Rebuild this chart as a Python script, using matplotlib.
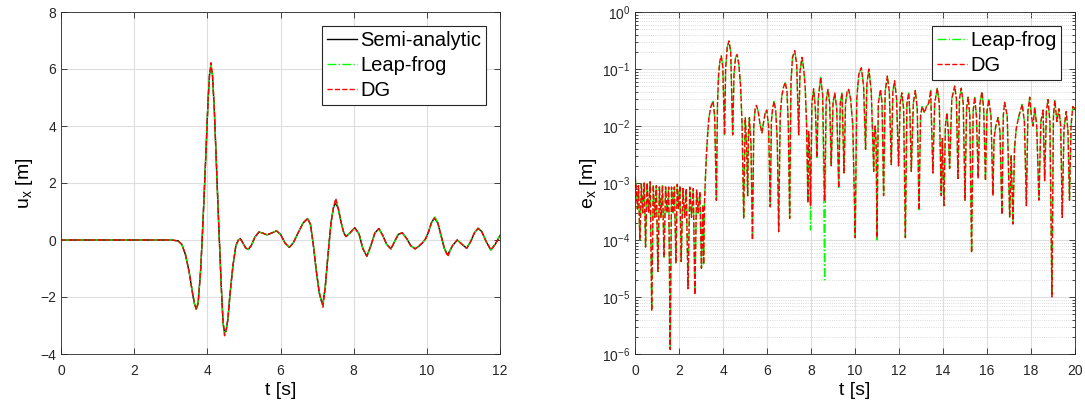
import numpy as np
import matplotlib
matplotlib.use("Agg")
import matplotlib.pyplot as plt
from matplotlib.ticker import LogLocator, NullFormatter

plt.rcParams['font.family'] = ['Liberation Sans', 'DejaVu Sans']
plt.rcParams['mathtext.fontset'] = 'custom'
plt.rcParams['mathtext.rm'] = 'Liberation Sans'
plt.rcParams['mathtext.it'] = 'Liberation Sans:italic'
plt.rcParams['mathtext.default'] = 'regular'

# ---- left panel: displacement u_x ----
t_u = [0.0, 3.0, 3.2, 3.3, 3.4, 3.5, 3.6, 3.65, 3.7, 3.75, 3.82, 3.88, 3.95, 4.02, 4.06,
       4.1, 4.14, 4.19, 4.25, 4.3, 4.38, 4.43, 4.47, 4.51, 4.56, 4.62, 4.7, 4.78, 4.85,
       4.9, 4.97, 5.05, 5.12, 5.2, 5.3, 5.41, 5.52, 5.63, 5.75, 5.89, 6.0, 6.12, 6.24,
       6.35, 6.5, 6.62, 6.74, 6.82, 6.9, 6.98, 7.06, 7.12, 7.16, 7.22, 7.3, 7.38, 7.45,
       7.51, 7.58, 7.66, 7.73, 7.79, 7.9, 8.03, 8.15, 8.25, 8.36, 8.47, 8.58, 8.69, 8.8,
       8.9, 9.02, 9.12, 9.22, 9.33, 9.45, 9.56, 9.68, 9.78, 9.88, 9.97, 10.05,
       10.13, 10.21, 10.3, 10.4, 10.48, 10.57, 10.7, 10.83, 10.96, 11.09, 11.2,
       11.3, 11.4, 11.5, 11.62, 11.75, 11.87, 12.0]
u_semi = [0.0, 0.0, -0.03, -0.15, -0.5, -1.1, -1.9, -2.25, -2.42, -2.2, -1.0, 0.6, 2.7, 4.9, 5.8,
          6.05, 5.8, 4.6, 2.6, 0.9, -1.6, -2.9, -3.25, -3.2, -2.8, -1.9, -0.9, -0.2, 0.0,
          0.05, -0.1, -0.28, -0.33, -0.2, 0.1, 0.28, 0.24, 0.18, 0.24, 0.32, 0.2, -0.1, -0.26,
          -0.1, 0.3, 0.6, 0.75, 0.55, -0.2, -1.1, -1.85, -2.15, -2.2, -1.7, -0.5, 0.6, 1.15,
          1.3, 1.1, 0.6, 0.25, 0.12, 0.25, 0.43, 0.2, -0.3, -0.57, -0.2, 0.25, 0.4, 0.15,
          -0.15, -0.31, -0.05, 0.2, 0.25, 0.05, -0.2, -0.31, -0.22, -0.1, 0.05, 0.3,
          0.62, 0.77, 0.6, 0.1, -0.3, -0.52, -0.2, 0.0, -0.15, -0.29, -0.05,
          0.25, 0.41, 0.3, -0.05, -0.35, -0.15, 0.16]
# numerical solutions differ from the reference only near the extrema
lf_peaks = {3.7: -2.47, 4.1: 6.15, 4.47: -3.3, 7.16: -2.3, 7.51: 1.4, 10.21: 0.84}
dg_peaks = {3.7: -2.44, 4.1: 6.22, 4.47: -3.36, 7.16: -2.36, 7.51: 1.46, 10.57: -0.58}
u_lf = [lf_peaks.get(t, u) for t, u in zip(t_u, u_semi)]
u_dg = [dg_peaks.get(t, u) for t, u in zip(t_u, u_semi)]

# ---- right panel: error e_x (t, value) ----
err_dg = [
    (0.00, 1.3e-3), (0.05, 9e-4), (0.11, 3.5e-4), (0.16, 9e-4), (0.22, 1.0e-4),
    (0.29, 9.5e-4), (0.35, 3e-4), (0.42, 1.0e-3), (0.48, 7.5e-5),
    (0.55, 1.0e-3), (0.62, 3e-4), (0.69, 1.05e-3), (0.76, 5.7e-6),
    (0.83, 9e-4), (0.90, 2.5e-4), (0.97, 9e-4), (1.04, 2.8e-5),
    (1.11, 8.5e-4), (1.18, 2.5e-4), (1.25, 9e-4), (1.32, 5e-5),
    (1.39, 8.5e-4), (1.46, 3e-4), (1.53, 8.5e-4), (1.60, 1.2e-6),
    (1.66, 8.5e-4), (1.73, 3e-4), (1.79, 8.5e-4), (1.86, 4e-5),
    (1.92, 9.5e-4), (1.98, 3.5e-4), (2.04, 9e-4), (2.10, 4.2e-5),
    (2.18, 8e-4), (2.26, 2.5e-4), (2.33, 8e-4), (2.41, 1.4e-5),
    (2.49, 8.5e-4), (2.57, 2.5e-4), (2.65, 8e-4), (2.72, 1.1e-5),
    (2.80, 7.5e-4), (2.87, 3e-4), (2.95, 7e-4), (3.02, 3.2e-5),
    (3.08, 4e-4), (3.12, 3.8e-5), (3.16, 4.5e-4),
    (3.20, 1.2e-3), (3.24, 2.8e-3), (3.30, 7e-3), (3.36, 1.4e-2), (3.45, 2.2e-2),
    (3.55, 2.7e-2), (3.62, 1.5e-2), (3.70, 5e-4),
    (3.75, 2.5e-2), (3.80, 8e-2), (3.86, 0.14), (3.92, 0.17), (3.99, 0.11), (4.07, 7e-3),
    (4.12, 0.1), (4.19, 0.24), (4.27, 0.31), (4.35, 0.2), (4.44, 7e-3),
    (4.50, 0.08), (4.57, 0.16), (4.64, 0.18), (4.72, 0.12), (4.80, 5e-2), (4.87, 1e-2),
    (4.94, 2.5e-4), (5.01, 1.4e-2), (5.07, 5e-3), (5.12, 6e-4), (5.16, 8e-3),
    (5.20, 1.4e-2), (5.27, 5e-3), (5.34, 1e-4),
    (5.40, 1e-2), (5.46, 2e-2), (5.52, 2.3e-2), (5.60, 1.8e-2), (5.68, 1.1e-2),
    (5.77, 7.5e-3), (5.85, 1.2e-2), (5.92, 1.7e-2), (5.99, 1.9e-2), (6.07, 1e-2),
    (6.15, 3.8e-4), (6.20, 1.2e-2), (6.26, 2.1e-2), (6.32, 2.7e-2), (6.40, 1.8e-2),
    (6.47, 5e-3), (6.53, 1.4e-4),
    (6.60, 1.5e-2), (6.67, 3.3e-2), (6.75, 4.8e-2), (6.83, 5.8e-2), (6.91, 4e-2),
    (6.97, 1e-2), (7.03, 2.4e-4),
    (7.09, 6e-2), (7.16, 0.16), (7.26, 0.21), (7.35, 0.12), (7.44, 7e-3),
    (7.50, 0.09), (7.59, 0.16), (7.67, 0.1), (7.74, 4.5e-2), (7.80, 1e-2),
    (7.86, 4.5e-4), (7.89, 8e-3), (7.94, 3e-3), (7.98, 4e-4),
    (8.04, 2.5e-2), (8.12, 4.5e-2), (8.20, 2e-2), (8.27, 2.8e-3),
    (8.33, 3e-2), (8.44, 7.2e-2), (8.53, 3.5e-2), (8.62, 5e-4),
    (8.69, 2.8e-2), (8.77, 4.4e-2), (8.85, 2.5e-2), (8.92, 2e-3),
    (9.00, 2.5e-2), (9.08, 3.8e-2), (9.17, 2e-2), (9.26, 8.3e-4),
    (9.33, 2.5e-2), (9.41, 3.8e-2), (9.50, 1.5e-3),
    (9.57, 2.5e-2), (9.64, 4e-2), (9.71, 4.4e-2), (9.80, 3e-2), (9.90, 1e-2),
    (10.01, 1.1e-4), (10.08, 3e-2), (10.17, 8e-2), (10.29, 0.105), (10.39, 5e-2),
    (10.48, 3.9e-3), (10.54, 5.5e-2), (10.63, 0.1), (10.74, 4e-2), (10.85, 1.6e-3),
    (10.88, 8e-3), (10.92, 1e-2), (10.96, 5e-3), (11.00, 1.1e-4),
    (11.06, 2.5e-2), (11.16, 4.4e-2), (11.23, 2.5e-2), (11.30, 6e-4),
    (11.37, 4e-2), (11.47, 7.5e-2), (11.56, 4e-2), (11.65, 2.1e-3),
    (11.72, 4e-2), (11.80, 6.2e-2), (11.89, 3e-2), (11.98, 2e-3),
    (12.05, 2.5e-2), (12.13, 3.8e-2), (12.21, 2e-2), (12.29, 1.1e-4),
    (12.36, 2.5e-2), (12.44, 3.8e-2), (12.50, 1.5e-2), (12.56, 1.6e-3),
    (12.65, 2.5e-2), (12.74, 4.2e-2), (12.83, 2e-2), (12.91, 3.4e-4),
    (12.98, 1.5e-2), (13.05, 2.2e-2), (13.16, 1.7e-2), (13.25, 2.2e-2),
    (13.35, 2.5e-2), (13.44, 4.2e-2), (13.54, 1.5e-3),
    (13.62, 2.5e-2), (13.74, 4.6e-2), (13.83, 2.5e-2), (13.92, 6e-4), (13.97, 6e-3),
    (14.04, 4e-4), (14.11, 1e-2), (14.18, 1.7e-2), (14.24, 8e-3), (14.30, 1.8e-3),
    (14.40, 3e-2), (14.53, 5e-2), (14.61, 3e-2), (14.68, 1.2e-3),
    (14.75, 3e-2), (14.83, 4.6e-2), (14.92, 2.5e-2), (15.00, 5e-4),
    (15.07, 2e-2), (15.14, 3.2e-2), (15.22, 1.5e-2), (15.30, 6e-5),
    (15.37, 1.8e-2), (15.44, 3.2e-2), (15.52, 1.5e-2), (15.60, 1.2e-3),
    (15.68, 2.5e-2), (15.77, 4e-2), (15.85, 2e-2), (15.93, 1.1e-3),
    (16.00, 1.8e-2), (16.08, 2.9e-2), (16.18, 1.5e-2), (16.27, 6e-4), (16.32, 6e-3),
    (16.40, 1e-2), (16.50, 1.4e-2), (16.59, 8e-3), (16.68, 2.8e-4),
    (16.74, 1.5e-2), (16.80, 2.6e-2), (16.92, 1.5e-2), (17.03, 2.5e-4), (17.10, 3e-3),
    (17.18, 1.9e-4), (17.25, 4e-3), (17.33, 9e-3), (17.45, 1.5e-2), (17.60, 2.4e-2),
    (17.70, 1.2e-2), (17.79, 4e-4),
    (17.86, 1.8e-2), (17.94, 3.2e-2), (18.02, 1.5e-2), (18.09, 1e-2), (18.17, 2.1e-2),
    (18.26, 1e-2), (18.36, 5e-4), (18.45, 1.2e-2), (18.55, 1.9e-2), (18.62, 1.1e-3),
    (18.70, 1.8e-2), (18.77, 2.9e-2), (18.86, 1.2e-2), (18.95, 1e-5),
    (19.02, 1.5e-2), (19.08, 2.8e-2), (19.18, 1.2e-2), (19.27, 2e-2), (19.35, 1e-2),
    (19.42, 2.5e-4), (19.50, 9e-3), (19.60, 1.8e-2), (19.68, 8e-3), (19.75, 5e-4),
    (19.82, 1e-2), (19.90, 2.2e-2), (20.0, 2e-2),
]
# leap-frog error: same curve, a few troughs go deeper
lf_dips = {7.98: 1.5e-4, 8.62: 2e-5, 4.94: 2.3e-4, 11.00: 1.0e-4}

t_e = [p[0] for p in err_dg]
e_dg = [p[1] for p in err_dg]
e_lf = [lf_dips.get(t, e) for t, e in err_dg]

GREEN = '#00ff00'
RED = '#ff0000'
AX_COL = '#262626'
GRID_COL = '#dedede'

fig = plt.figure(figsize=(10.85, 4.05), dpi=100)
ax1 = fig.add_axes([61 / 1085, 51 / 405, 439 / 1085, 342 / 405])
ax2 = fig.add_axes([635 / 1085, 51 / 405, 440 / 1085, 342 / 405])

leg_kw = dict(loc='upper right', fontsize=14.5, fancybox=False, framealpha=1,
              edgecolor=AX_COL, handlelength=1.5, handletextpad=0.15,
              borderpad=0.25, labelspacing=0.3, borderaxespad=0)

# left plot
ax1.plot(t_u, u_semi, color='k', lw=1.0, label='Semi-analytic')
ax1.plot(t_u, u_lf, color=GREEN, lw=1.0, ls='-.', label='Leap-frog')
ax1.plot(t_u, u_dg, color=RED, lw=1.0, ls='--', label='DG')
ax1.set_xlim(0, 12)
ax1.set_ylim(-4, 8)
ax1.set_xticks(np.arange(0, 13, 2))
ax1.set_yticks(np.arange(-4, 9, 2))
ax1.set_xlabel('t [s]', fontsize=14, labelpad=3)
ax1.set_ylabel('u$_x$ [m]', fontsize=14, labelpad=4)
ax1.grid(True, color=GRID_COL, lw=0.8)
leg1 = ax1.legend(bbox_to_anchor=(0.968, 0.96), **leg_kw)

# right plot
ax2.semilogy(t_e, e_lf, color=GREEN, lw=1.0, ls='-.', label='Leap-frog')
ax2.semilogy(t_e, e_dg, color=RED, lw=1.0, ls='--', label='DG')
ax2.set_xlim(0, 20)
ax2.set_ylim(1e-6, 1)
ax2.set_xticks(np.arange(0, 21, 2))
ax2.yaxis.set_major_locator(LogLocator(base=10, numticks=10))
ax2.yaxis.set_minor_locator(LogLocator(base=10, subs=np.arange(2, 10), numticks=20))
ax2.yaxis.set_minor_formatter(NullFormatter())
ax2.set_xlabel('t [s]', fontsize=14, labelpad=3)
ax2.set_ylabel('e$_x$ [m]', fontsize=14, labelpad=2)
ax2.grid(True, which='major', color=GRID_COL, lw=0.8)
ax2.grid(True, which='minor', color='#d0d0d0', lw=0.6, ls=':')
leg2 = ax2.legend(bbox_to_anchor=(0.969, 0.959), **leg_kw)

for ax in (ax1, ax2):
    ax.set_axisbelow(True)
    for sp in ax.spines.values():
        sp.set_color(AX_COL)
        sp.set_linewidth(0.6)
    ax.tick_params(which='both', direction='in', top=True, right=True,
                   colors=AX_COL, labelsize=10, width=0.6)
    ax.tick_params(which='major', length=4)
    ax.tick_params(which='minor', length=2)
    ax.tick_params(axis='x', pad=7)
for leg in (leg1, leg2):
    leg.get_frame().set_linewidth(0.8)

fig.savefig('out.png', dpi=100)
